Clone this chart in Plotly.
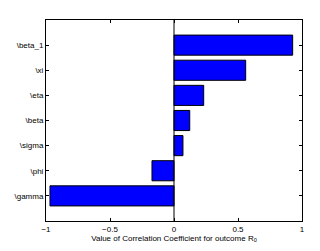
import plotly.graph_objects as go

params = ["\\beta_1", "\\xi", "\\eta", "\\beta", "\\sigma", "\\phi", "\\gamma"]
corr = [0.927, 0.56, 0.232, 0.123, 0.07, -0.172, -0.969]
positions = [7, 6, 5, 4, 3, 2, 1]
xticks = [-1, -0.5, 0, 0.5, 1]
xticklabels = ["\u22121", "\u22120.5", "0", "0.5", "1"]

fig = go.Figure()
fig.add_trace(go.Bar(
    x=corr, y=positions, orientation="h", width=0.8,
    marker=dict(color="#0000ff", line=dict(color="black", width=1)),
    showlegend=False,
))
fig.add_shape(type="line", x0=0, x1=0, y0=0, y1=8, xref="x", yref="y",
              line=dict(color="black", width=1))

font = dict(family="Liberation Sans, Arial, sans-serif", size=8, color="black")
fig.update_layout(
    width=312, height=243,
    margin=dict(l=38, r=18, t=12, b=30, autoexpand=False),
    paper_bgcolor="white", plot_bgcolor="white",
    font=font,
    xaxis=dict(range=[-1, 1], tickvals=xticks, ticktext=xticklabels,
               ticks="inside", ticklen=3, tickcolor="black",
               showline=True, linecolor="black", linewidth=1, mirror="ticks",
               showgrid=False, zeroline=False, automargin=False,
               title=dict(text="Value of Correlation Coefficient for outcome R<sub>0</sub>",
                          font=font, standoff=2)),
    yaxis=dict(range=[0, 8], tickvals=positions, ticktext=params,
               ticks="inside", ticklen=3, tickcolor="black",
               showline=True, linecolor="black", linewidth=1, mirror="ticks",
               showgrid=False, zeroline=False, automargin=False),
)
fig.write_html("out.html")
